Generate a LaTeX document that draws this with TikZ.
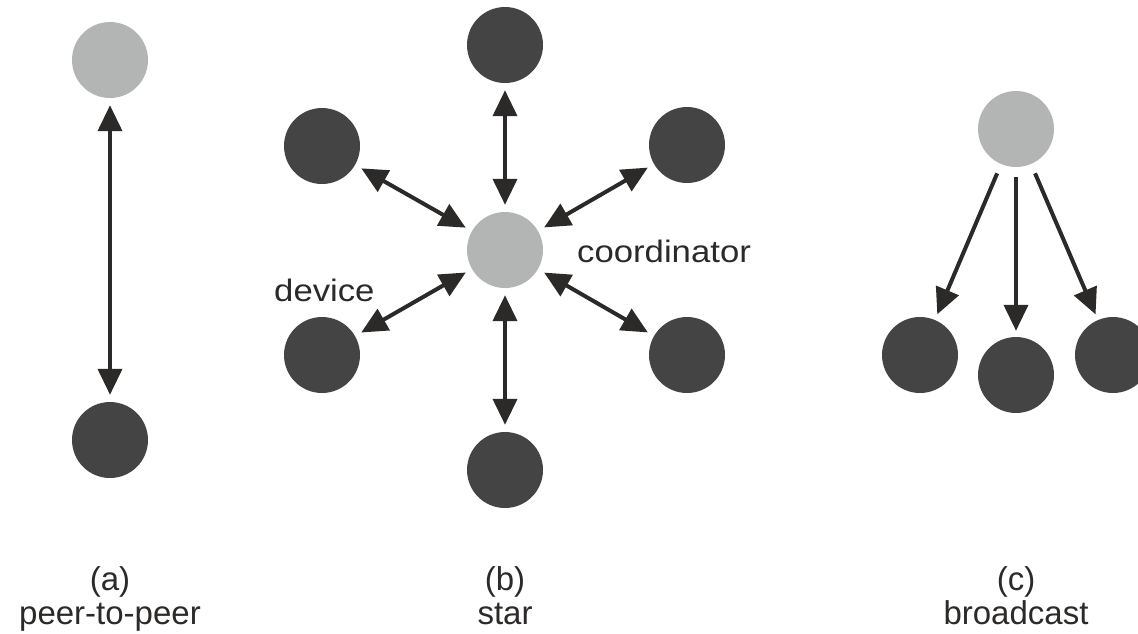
\documentclass[tikz,border=0pt]{standalone}
\usepackage{fontspec}
\setmainfont{Liberation Sans}
\newfontfamily\labfont[FakeStretch=1.12]{Liberation Sans}
\usetikzlibrary{arrows.meta}
\definecolor{lightnode}{HTML}{B3B5B4}
\definecolor{darknode}{HTML}{444444}
\definecolor{arrowcol}{HTML}{2B2A29}
\definecolor{textcol}{HTML}{2B2A29}
\begin{document}
\begin{tikzpicture}[x=1pt,y=-1pt,
  lnode/.style={circle,fill=lightnode,minimum size=76pt,inner sep=0pt},
  dnode/.style={circle,fill=darknode,minimum size=76pt,inner sep=0pt},
  bigtip/.tip={Triangle[length=26pt,width=24pt]},
  oneway/.style={line width=4pt,draw=arrowcol,-bigtip,shorten >=6pt,shorten <=10pt},
  twoway/.style={line width=4pt,draw=arrowcol,bigtip-bigtip,shorten >=7pt,shorten <=7pt},
  labtext/.style={font=\labfont\fontsize{31}{36}\selectfont,text=textcol,inner sep=0pt,anchor=base west},
  captext/.style={font=\fontsize{33}{38}\selectfont,text=textcol,inner sep=0pt,anchor=base}]
\useasboundingbox (0,0) rectangle (1138,633);
\clip (0,0) rectangle (1138,633);
% (a) peer-to-peer
\node[lnode] (a1) at (110,60) {};
\node[dnode] (a2) at (110,440) {};
\draw[twoway] (a1) -- (a2);
% (b) star
\node[lnode] (c0) at (505,250) {};
\node[dnode] (b1) at (505,45) {};
\node[dnode] (b2) at (687,145) {};
\node[dnode] (b3) at (687,355) {};
\node[dnode] (b4) at (505,470) {};
\node[dnode] (b5) at (322,355) {};
\node[dnode] (b6) at (322,146) {};
\foreach \n in {b1,b2,b3,b4,b5,b6}{\draw[twoway] (c0) -- (\n);}
\node[labtext] (tcoord) at (577,262) {coordinator};
\node[labtext] (tdev) at (274,301) {device};
% (c) broadcast
\node[lnode] (s0) at (1016,129) {};
\node[dnode] (r1) at (920,355) {};
\node[dnode] (r2) at (1016,375) {};
\node[dnode] (r3) at (1113,355) {};
\foreach \n in {r1,r2,r3}{\draw[oneway] (s0) -- (\n);}
% captions
\node[captext] (ca1) at (110,590) {(a)};
\node[captext] (ca2) at (110,624) {peer-to-peer};
\node[captext] (cb1) at (505,590) {(b)};
\node[captext] (cb2) at (505,624) {star};
\node[captext] (cc1) at (1016,590) {(c)};
\node[captext] (cc2) at (1016,624) {broadcast};
\end{tikzpicture}
\end{document}
